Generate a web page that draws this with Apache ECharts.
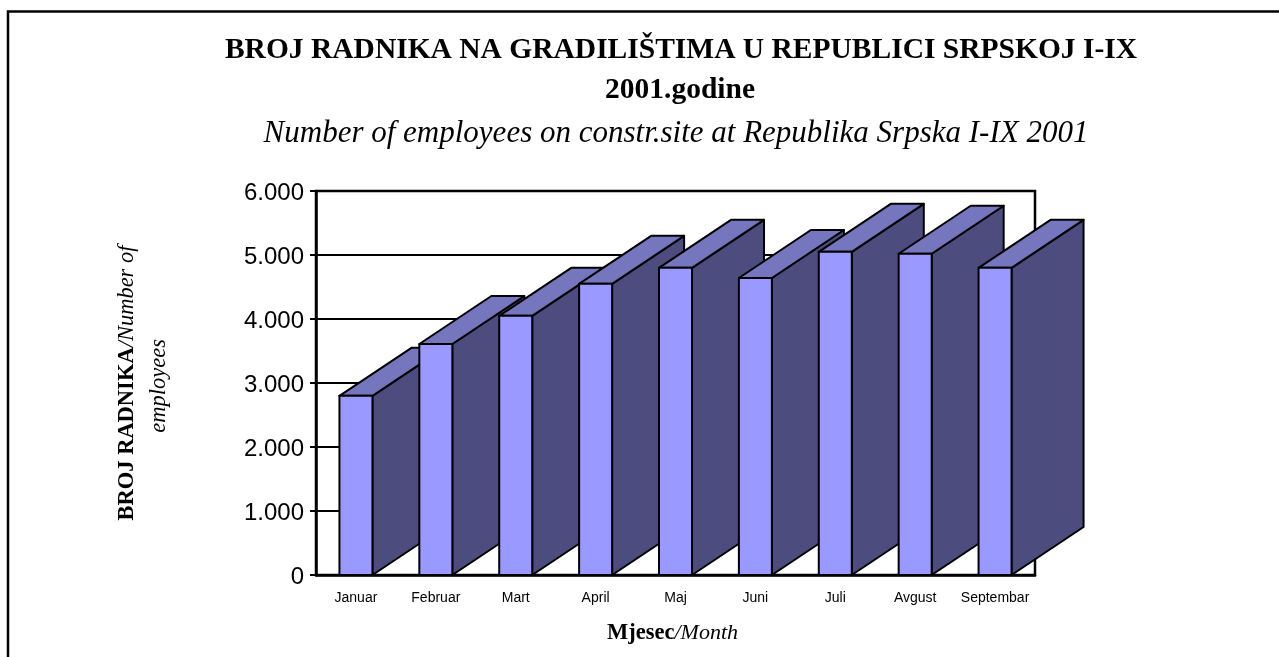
<!DOCTYPE html>
<html>
<head>
<meta charset="utf-8">
<title>Broj radnika</title>
<style>
    html, body { margin: 0; padding: 0; background: #fff; }
    #chart { width: 1279px; height: 657px; }
</style>
<script src="https://cdn.jsdelivr.net/npm/echarts@6/dist/echarts.min.js"></script>
</head>
<body>
<div id="chart"></div>
<script>
const months = ['Januar', 'Februar', 'Mart', 'April', 'Maj', 'Juni', 'Juli', 'Avgust', 'Septembar'];
const employees = [2800, 3610, 4050, 4550, 4800, 4640, 5050, 5020, 4800];
const yTickLabels = ['0', '1.000', '2.000', '3.000', '4.000', '5.000', '6.000'];

const serif = '"Liberation Serif", serif';
const sans = '"Liberation Sans", sans-serif';

// Depth of the fake 3D bars, in pixels
const depthX = 72;
const depthY = -48;
const barWidth = 33;

function renderBar(params, api) {
    const top = api.coord([api.value(0), api.value(1)]);
    const base = api.coord([api.value(0), 0]);
    const x1 = top[0] - barWidth / 2;
    const x2 = top[0] + barWidth / 2;
    const edge = { stroke: '#000', lineWidth: 2, lineJoin: 'round' };

    return {
        type: 'group',
        children: [
            {
                type: 'polygon',
                shape: { points: [[x2, top[1]], [x2 + depthX, top[1] + depthY], [x2 + depthX, base[1] + depthY], [x2, base[1]]] },
                style: Object.assign({ fill: '#4C4C7F' }, edge)
            },
            {
                type: 'polygon',
                shape: { points: [[x1, top[1]], [x1 + depthX, top[1] + depthY], [x2 + depthX, top[1] + depthY], [x2, top[1]]] },
                style: Object.assign({ fill: '#7676BF' }, edge)
            },
            {
                type: 'rect',
                shape: { x: x1, y: top[1], width: barWidth, height: base[1] - top[1] },
                style: Object.assign({ fill: '#9999FF' }, edge)
            }
        ]
    };
}

const chart = echarts.init(document.getElementById('chart'));

chart.setOption({
    animation: false,
    backgroundColor: '#fff',
    title: [
        {
            text: 'BROJ RADNIKA NA GRADILIŠTIMA U REPUBLICI SRPSKOJ I-IX',
            left: 676, top: 30, textAlign: 'center',
            textStyle: { fontFamily: serif, fontSize: 29.5, fontWeight: 'bold', color: '#000' }
        },
        {
            text: '2001.godine',
            left: 675, top: 70, textAlign: 'center',
            textStyle: { fontFamily: serif, fontSize: 29.5, fontWeight: 'bold', color: '#000' }
        },
        {
            text: 'Number of employees on constr.site at Republika Srpska I-IX 2001',
            left: 671, top: 113, textAlign: 'center',
            textStyle: { fontFamily: serif, fontSize: 31, fontStyle: 'italic', fontWeight: 'normal', color: '#000' }
        }
    ],
    graphic: [
        {
            type: 'polyline',
            shape: { points: [[8, 657], [8, 11.5], [1279, 11.5]] },
            style: { stroke: '#000', lineWidth: 2.5, fill: null }
        }
    ],
    grid: {
        left: 316, top: 191, width: 719, height: 384,
        show: true, borderColor: '#000', borderWidth: 2.5, backgroundColor: 'transparent'
    },
    xAxis: {
        type: 'category',
        data: months,
        axisLine: { lineStyle: { color: '#000', width: 2.5 } },
        axisTick: { show: false },
        axisLabel: { interval: 0, margin: 16, fontFamily: sans, fontSize: 14, color: '#000' },
        name: '{b|Mjesec}{i|/Month}',
        nameLocation: 'middle',
        nameGap: 47,
        nameTextStyle: {
            padding: [0, 6, 0, 0],
            rich: {
                b: { fontFamily: serif, fontSize: 22.5, fontWeight: 'bold', color: '#000' },
                i: { fontFamily: serif, fontSize: 22, fontStyle: 'italic', color: '#000' }
            }
        }
    },
    yAxis: {
        type: 'value',
        min: 0,
        max: 6000,
        interval: 1000,
        axisLine: { show: true, lineStyle: { color: '#000', width: 2.5 } },
        axisTick: { show: true, length: 6, lineStyle: { color: '#000', width: 2 } },
        splitLine: { lineStyle: { color: '#000', width: 2 } },
        axisLabel: {
            margin: 12,
            formatter: value => '{tick|' + yTickLabels[value / 1000] + '}',
            rich: {
                tick: { fontFamily: sans, fontSize: 24, color: '#000', padding: [5, 0, 0, 0] }
            }
        },
        name: '{b|BROJ RADNIKA}{i|/Number of}\n{i|employees }',
        nameLocation: 'middle',
        nameRotate: 90,
        nameGap: 141,
        nameTextStyle: {
            align: 'center',
            lineHeight: 32,
            rich: {
                b: { fontFamily: serif, fontSize: 22.5, fontWeight: 'bold', color: '#000', lineHeight: 32 },
                i: { fontFamily: serif, fontSize: 22.5, fontStyle: 'italic', color: '#000', lineHeight: 32 }
            }
        }
    },
    series: [
        {
            type: 'custom',
            renderItem: renderBar,
            clip: false,
            encode: { x: 0, y: 1 },
            data: employees.map((value, index) => [index, value])
        }
    ]
});

window.addEventListener('resize', () => chart.resize());
</script>
</body>
</html>
